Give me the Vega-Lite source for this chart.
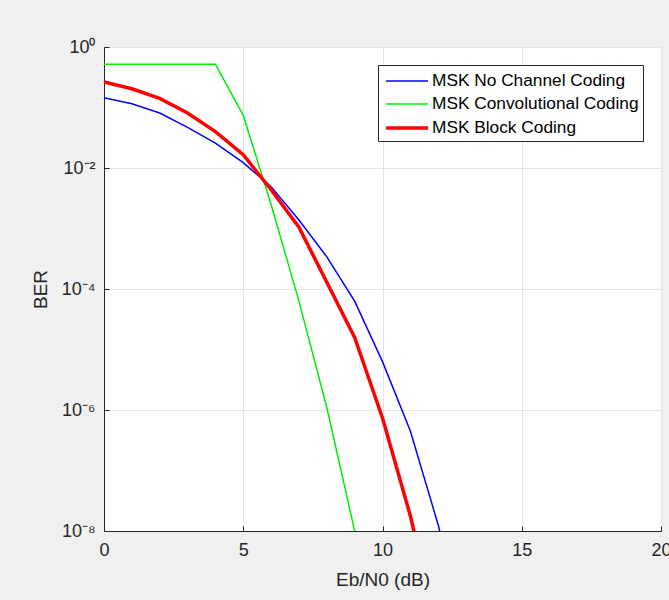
{
  "$schema": "https://vega.github.io/schema/vega-lite/v6.json",
  "width": 557,
  "height": 484,
  "autosize": {"type": "none"},
  "padding": {"left": 104, "top": 47, "right": 8, "bottom": 69},
  "background": "#f0f0f0",
  "config": {
    "view": {"fill": "white", "stroke": "#dcdcdc", "strokeWidth": 1},
    "axis": {
      "domainColor": "#262626",
      "tickColor": "#262626",
      "labelColor": "#262626",
      "titleColor": "#262626",
      "gridColor": "#e3e3e3",
      "labelFont": "Liberation Sans",
      "titleFont": "Liberation Sans",
      "labelFontSize": 18,
      "titleFontSize": 19,
      "titleFontWeight": "normal",
      "domainWidth": 1
    },
    "legend": {
      "labelFont": "Liberation Sans",
      "labelFontSize": 17.3,
      "labelColor": "#000000"
    }
  },
  "data": {
    "values": [
      {"snr": 0, "ber": 0.145, "series": "MSK No Channel Coding"},
      {"snr": 1, "ber": 0.115, "series": "MSK No Channel Coding"},
      {"snr": 2, "ber": 0.081, "series": "MSK No Channel Coding"},
      {"snr": 3, "ber": 0.0468, "series": "MSK No Channel Coding"},
      {"snr": 4, "ber": 0.0257, "series": "MSK No Channel Coding"},
      {"snr": 5, "ber": 0.0123, "series": "MSK No Channel Coding"},
      {"snr": 6, "ber": 0.0049, "series": "MSK No Channel Coding"},
      {"snr": 7, "ber": 0.00138, "series": "MSK No Channel Coding"},
      {"snr": 8, "ber": 0.00034, "series": "MSK No Channel Coding"},
      {"snr": 9, "ber": 0.000063, "series": "MSK No Channel Coding"},
      {"snr": 10, "ber": 0.0000063, "series": "MSK No Channel Coding"},
      {"snr": 11, "ber": 4.5e-7, "series": "MSK No Channel Coding"},
      {"snr": 12, "ber": 1.26e-8, "series": "MSK No Channel Coding"},
      {"snr": 13, "ber": 1.6e-10, "series": "MSK No Channel Coding"},
      {"snr": 0, "ber": 0.52, "series": "MSK Convolutional Coding"},
      {"snr": 1, "ber": 0.52, "series": "MSK Convolutional Coding"},
      {"snr": 2, "ber": 0.52, "series": "MSK Convolutional Coding"},
      {"snr": 3, "ber": 0.52, "series": "MSK Convolutional Coding"},
      {"snr": 4, "ber": 0.52, "series": "MSK Convolutional Coding"},
      {"snr": 5, "ber": 0.074, "series": "MSK Convolutional Coding"},
      {"snr": 6, "ber": 0.0025, "series": "MSK Convolutional Coding"},
      {"snr": 7, "ber": 0.000063, "series": "MSK Convolutional Coding"},
      {"snr": 8, "ber": 0.0000011, "series": "MSK Convolutional Coding"},
      {"snr": 9, "ber": 1e-8, "series": "MSK Convolutional Coding"},
      {"snr": 10, "ber": 5e-11, "series": "MSK Convolutional Coding"},
      {"snr": 0, "ber": 0.265, "series": "MSK Block Coding"},
      {"snr": 1, "ber": 0.204, "series": "MSK Block Coding"},
      {"snr": 2, "ber": 0.141, "series": "MSK Block Coding"},
      {"snr": 3, "ber": 0.081, "series": "MSK Block Coding"},
      {"snr": 4, "ber": 0.04, "series": "MSK Block Coding"},
      {"snr": 5, "ber": 0.0166, "series": "MSK Block Coding"},
      {"snr": 6, "ber": 0.00437, "series": "MSK Block Coding"},
      {"snr": 7, "ber": 0.00105, "series": "MSK Block Coding"},
      {"snr": 8, "ber": 0.000129, "series": "MSK Block Coding"},
      {"snr": 9, "ber": 0.0000158, "series": "MSK Block Coding"},
      {"snr": 10, "ber": 7.4e-7, "series": "MSK Block Coding"},
      {"snr": 11, "ber": 1.78e-8, "series": "MSK Block Coding"},
      {"snr": 12, "ber": 2e-10, "series": "MSK Block Coding"}
    ]
  },
  "mark": {"type": "line", "clip": true, "interpolate": "linear"},
  "encoding": {
    "x": {
      "field": "snr",
      "type": "quantitative",
      "scale": {"domain": [0, 20], "nice": false},
      "axis": {
        "values": [0, 5, 10, 15, 20],
        "title": "Eb/N0 (dB)",
        "grid": true,
        "tickSize": -5,
        "labelPadding": 15,
        "titlePadding": 11,
        "labelBound": false,
        "labelFlush": false,
        "labelOverlap": false
      }
    },
    "y": {
      "field": "ber",
      "type": "quantitative",
      "scale": {"type": "log", "domain": [1e-8, 1], "nice": false},
      "axis": {
        "values": [1e-8, 1e-6, 1e-4, 1e-2, 1],
        "title": "BER",
        "grid": true,
        "tickSize": -5,
        "labelPadding": 14,
        "titlePadding": 11,
        "labelBaseline": "middle",
        "labelDy": 3,
        "labelExpr": "datum.value >= 0.5 ? '10⁰' : datum.value >= 0.005 ? '10⁻²' : datum.value >= 0.00005 ? '10⁻⁴' : datum.value >= 5e-7 ? '10⁻⁶' : '10⁻⁸'",
        "labelBound": false,
        "labelFlush": false,
        "labelOverlap": false
      }
    },
    "color": {
      "field": "series",
      "type": "ordinal",
      "sort": ["MSK No Channel Coding", "MSK Convolutional Coding", "MSK Block Coding"],
      "scale": {
        "type": "ordinal",
        "domain": ["MSK No Channel Coding", "MSK Convolutional Coding", "MSK Block Coding"],
        "range": ["#0000ff", "#00ee00", "#ff0000"]
      },
      "legend": {
        "title": null,
        "orient": "top-right",
        "offset": 18,
        "symbolType": "M-1.9,0H1.9",
        "symbolSize": 484,
        "symbolOffset": 12,
        "labelOffset": 12,
        "rowPadding": 2,
        "padding": 4,
        "strokeColor": "#262626",
        "fillColor": "white",
        "labelLimit": 400
      }
    },
    "strokeWidth": {
      "field": "series",
      "type": "ordinal",
      "sort": ["MSK No Channel Coding", "MSK Convolutional Coding", "MSK Block Coding"],
      "scale": {
        "type": "ordinal",
        "domain": ["MSK No Channel Coding", "MSK Convolutional Coding", "MSK Block Coding"],
        "range": [1.5, 1.5, 3.5]
      },
      "legend": {
        "title": null,
        "orient": "top-right",
        "offset": 18,
        "symbolType": "M-1.9,0H1.9",
        "symbolSize": 484,
        "symbolOffset": 12,
        "labelOffset": 12,
        "rowPadding": 2,
        "padding": 4,
        "strokeColor": "#262626",
        "fillColor": "white",
        "labelLimit": 400
      }
    }
  }
}
